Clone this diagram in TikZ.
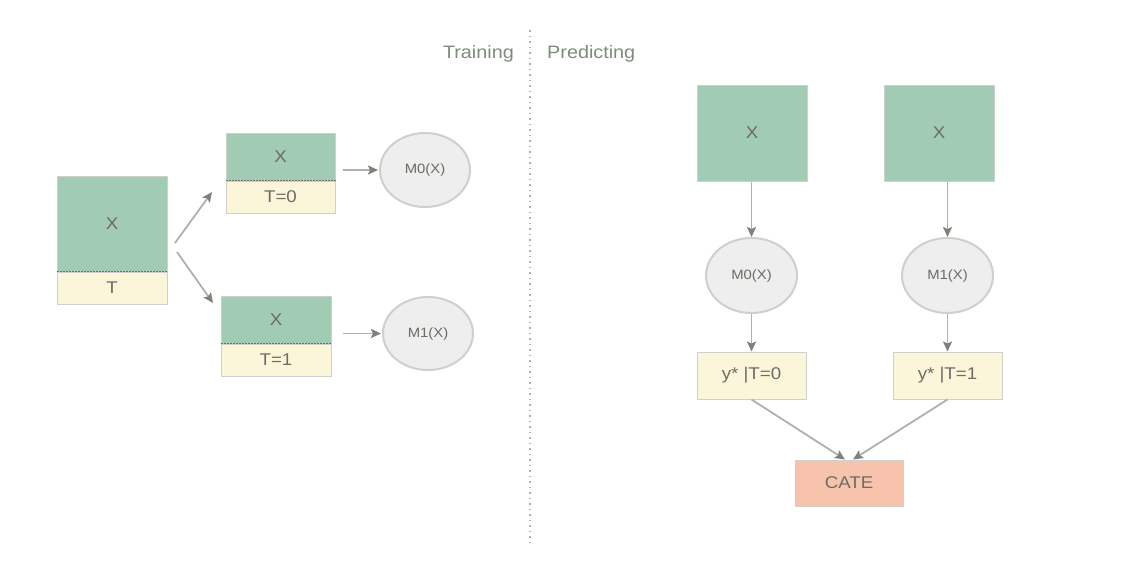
\documentclass[tikz,border=0pt]{standalone}
\usepackage{fontspec}
\setmainfont{Liberation Sans}[FakeStretch=1.1]
\usetikzlibrary{arrows.meta,shapes.geometric}
\definecolor{gfill}{HTML}{A2CBB4}
\definecolor{yfill}{HTML}{FBF6DA}
\definecolor{ofill}{HTML}{F7C3AD}
\definecolor{efill}{HTML}{EEEEEE}
\definecolor{edraw}{HTML}{CFCFCC}
\definecolor{txt}{HTML}{6C6C64}
\definecolor{hdr}{HTML}{7A8E78}
\definecolor{arr}{HTML}{B0B1AA}
\definecolor{tip}{HTML}{7F8077}
\tikzset{
  gbox/.style={draw=edraw, line width=1pt, fill=gfill, text=txt, font=\fontsize{17}{20}\selectfont},
  ybox/.style={draw=edraw, line width=1pt, fill=yfill, text=txt, font=\fontsize{17}{20}\selectfont},
  obox/.style={draw=edraw, line width=1pt, fill=ofill, text=txt, font=\fontsize{17}{20}\selectfont},
  model/.style={ellipse, draw=edraw, line width=2pt, fill=efill, text=txt, inner sep=0pt, font=\fontsize{13.5}{16}\selectfont},
  conn/.style={draw=arr, line width=1.8pt, -{Stealth[length=10pt,width=9pt,inset=2pt,color=tip,fill=tip]}},
  hlab/.style={text=hdr, font=\fontsize{18}{21}\selectfont, inner sep=0pt}
}
\begin{document}
\begin{tikzpicture}[x=1pt,y=-1pt]
\useasboundingbox (0,0) rectangle (1138,566);
\fill[white] (0,0) rectangle (1138,566);
% divider and headers
\coordinate (d1) at (530,30);
\coordinate (d2) at (530,545);
\draw[draw=arr, line width=1.5pt, dash pattern=on 1.5pt off 4pt] (d1) -- (d2);
\node[hlab, anchor=east] (train) at (514,53.5) {Training};
\node[hlab, anchor=west] (pred) at (547,53.5) {Predicting};
% ---- Training ----
\node[gbox, minimum width=110pt, minimum height=95pt] (bigX) at (112,223.5) {X};
\node[ybox, minimum width=110pt, minimum height=32pt, anchor=north] (bigT) at (bigX.south) {T};
\draw[txt, line width=0.5pt, densely dotted] (bigX.south west) -- (bigX.south east);

\node[gbox, minimum width=109pt, minimum height=47pt] (tX) at (280.5,156.5) {X};
\node[ybox, minimum width=109pt, minimum height=32pt, anchor=north] (tT) at (tX.south) {T=0};
\draw[txt, line width=0.5pt, densely dotted] (tX.south west) -- (tX.south east);

\node[gbox, minimum width=110pt, minimum height=47pt] (bX) at (276,319.5) {X};
\node[ybox, minimum width=110pt, minimum height=32pt, anchor=north] (bT) at (bX.south) {T=1};
\draw[txt, line width=0.5pt, densely dotted] (bX.south west) -- (bX.south east);

\node[model, minimum width=90pt, minimum height=74pt] (tm0) at (425,170) {M0(X)};
\node[model, minimum width=90pt, minimum height=73pt] (tm1) at (428,333.5) {M1(X)};

\coordinate (s0) at (175,243);
\coordinate (s1) at (177,252);
\coordinate (e0) at (212,192);
\coordinate (e1) at (213,303);
\draw[conn] (s0) -- (e0);
\draw[conn] (s1) -- (e1);
\draw[conn] ([xshift=7pt]tX.south east |- tm0) -- ([xshift=-1pt]tm0.west);
\draw[conn] ([xshift=11pt]bX.south east |- tm1) -- ([xshift=-1pt]tm1.west);
% ---- Predicting ----
\node[gbox, minimum width=110pt, minimum height=96pt] (pX0) at (752,133) {X};
\node[gbox, minimum width=110pt, minimum height=96pt] (pX1) at (939,133) {X};
\node[model, minimum width=91pt, minimum height=75pt] (pm0) at (751.5,275.5) {M0(X)};
\node[model, minimum width=91pt, minimum height=75pt] (pm1) at (947.5,275.5) {M1(X)};
\node[ybox, minimum width=109pt, minimum height=47pt] (py0) at (751.5,375.5) {y* |T=0};
\node[ybox, minimum width=109pt, minimum height=47pt] (py1) at (947.5,375.5) {y* |T=1};
\node[obox, minimum width=108pt, minimum height=46pt] (cate) at (849,483) {CATE};

\draw[conn] (pm0.north |- pX0.south) -- (pm0.north);
\draw[conn] (pm1.north |- pX1.south) -- (pm1.north);
\draw[conn] (pm0.south) -- (py0.north);
\draw[conn] (pm1.south) -- (py1.north);
\draw[conn] (py0.south) -- ([xshift=-4pt]cate.north);
\draw[conn] (py1.south) -- ([xshift=4pt]cate.north);
\end{tikzpicture}
\end{document}
